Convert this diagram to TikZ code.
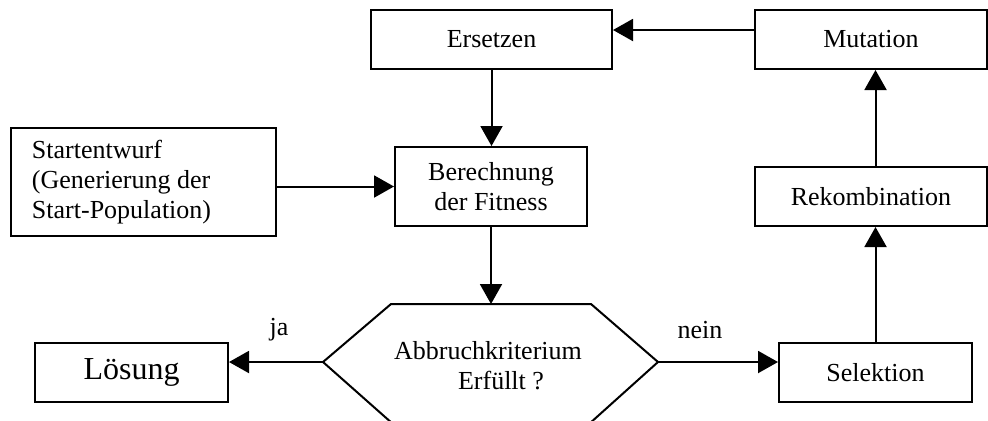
\documentclass[tikz,border=0pt]{standalone}
\usepackage{fontspec}
\setmainfont{Liberation Serif}
\usetikzlibrary{arrows.meta}

\tikzset{
  box/.style={draw, line width=1pt, inner sep=0pt, minimum height=29.5pt, align=center, font=\fontsize{13}{15}\selectfont},
  arr/.style={line width=1pt, -{Triangle[length=10pt, width=11pt]}},
  lbl/.style={inner sep=0pt, font=\fontsize{13}{15}\selectfont}
}

\begin{document}
\begin{tikzpicture}[x=0.5pt, y=-0.5pt]
                \useasboundingbox (0,0) rectangle (988,420);
                \node[box, minimum width=120.5pt] (ersetzen) at (491.5,39.5) {Ersetzen};
                \node[box, minimum width=116pt] (mutation) at (871,39.5) {Mutation};
                \node[box, minimum width=116pt] (rekombination) at (871,196.5) {Rekombination};
                \node[box, minimum width=96.5pt] (selektion) at (875.5,372.5) {Selektion};
                \node[box, minimum width=96.5pt, font=\fontsize{16}{19}\selectfont] (loesung) at (131.5,372.5) {Lösung};
                \node[box, minimum width=96pt, minimum height=39.5pt] (fitness) at (491,186.5) {Berechnung\\der Fitness};
                \node[box, align=flush left, text width=111.5pt, inner xsep=10.5pt, minimum height=54pt] (start) at (143.5,182) {Startentwurf\\(Generierung der\\Start-Population)};

                % Sechseck fuer das Abbruchkriterium
                \coordinate (abbruchN) at (491,304);
                \coordinate (abbruchW) at (323,362);
                \coordinate (abbruchE) at (658,362);
                \draw[line width=1pt] (abbruchW) -- (391,304) -- (591,304) -- (abbruchE) -- (589,424) -- (393,424) -- cycle;
                \node[lbl, align=center] (abbruch) at (488,366) {Abbruchkriterium\\\hspace*{13pt}Erfüllt ?};
                \node[lbl] (ja) at (279,330) {ja};
                \node[lbl] (nein) at (700,330) {nein};

                \draw[arr] (ersetzen.south) -- (ersetzen.south |- fitness.north);
                \draw[arr] ([yshift=4.75pt]mutation.west) -- ([yshift=4.75pt]mutation.west -| ersetzen.east);
                \draw[arr] (start.east |- fitness.west) -- (fitness.west);
                \draw[arr] (fitness.south) -- (abbruchN);
                \draw[arr] (abbruchW) -- (abbruchW -| loesung.east);
                \draw[arr] (abbruchE) -- (abbruchE -| selektion.west);
                \foreach \a/\b in {selektion/rekombination, rekombination/mutation}
                    \draw[arr] (selektion.north |- \a.north) -- (selektion.north |- \b.south);
            \end{tikzpicture}
\end{document}
